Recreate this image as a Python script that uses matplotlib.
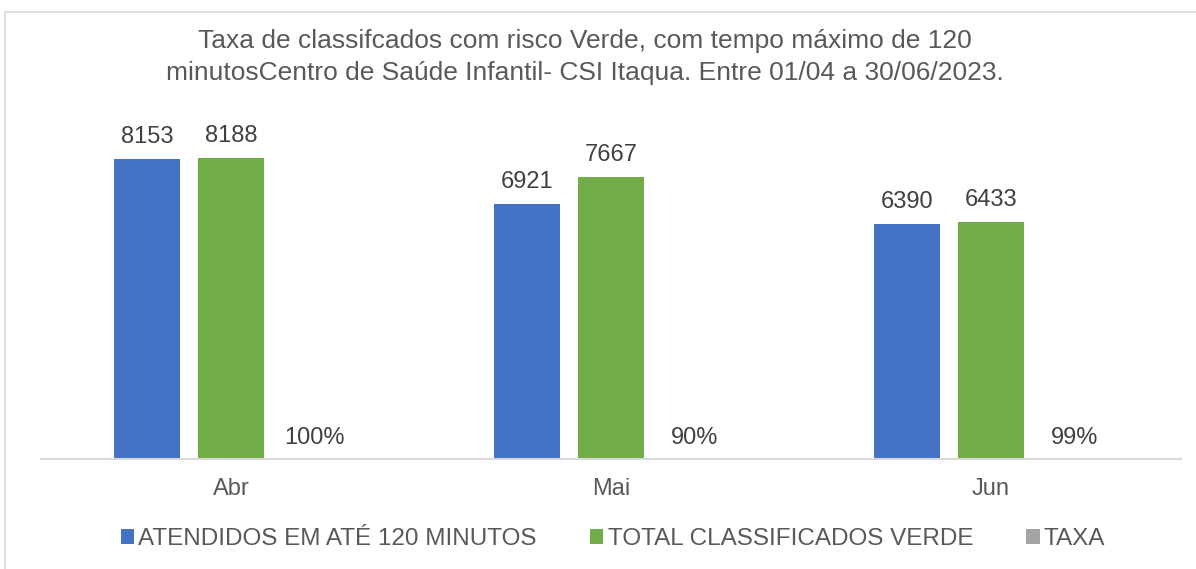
import matplotlib
matplotlib.use("Agg")
import matplotlib.pyplot as plt
import numpy as np
from matplotlib.patches import Rectangle

plt.rcParams["font.family"] = ["Liberation Sans", "DejaVu Sans"]

# Dados
meses = ["Abr", "Mai", "Jun"]
atendidos = [8153, 6921, 6390]
total_verde = [8188, 7667, 6433]
taxa = [1.00, 0.90, 0.99]
taxa_labels = ["100%", "90%", "99%"]

series_nomes = ["ATENDIDOS EM ATÉ 120 MINUTOS", "TOTAL CLASSIFICADOS VERDE", "TAXA"]
cores = ["#4472C4", "#70AD47", "#A5A5A5"]

fig = plt.figure(figsize=(11.96, 5.69), dpi=100)
ax = fig.add_axes([41 / 1196, 1 - 459 / 569, 1140 / 1196, 331 / 569])

# borda do gráfico
fig.patches.append(Rectangle((5 / 1196, -0.05), 1.1, 1 - 12 / 569 + 0.05,
                             transform=fig.transFigure, fill=False,
                             edgecolor="#D9D9D9", linewidth=1.2))

x = np.arange(len(meses))
w = 0.174
off = 0.221

b1 = ax.bar(x - off, atendidos, w, color=cores[0], label=series_nomes[0])
b2 = ax.bar(x, total_verde, w, color=cores[1], label=series_nomes[1])
b3 = ax.bar(x + off, taxa, w, color=cores[2], label=series_nomes[2])

lab_kw = dict(textcoords="offset points", ha="center", va="center",
              fontsize=17, color="#404040")
for bars, vals in [(b1, atendidos), (b2, total_verde)]:
    for r, v in zip(bars, vals):
        ax.annotate(f"{v}", (r.get_x() + r.get_width() / 2, r.get_height()),
                    xytext=(0, 16), **lab_kw)
for r, t in zip(b3, taxa_labels):
    ax.annotate(t, (r.get_x() + r.get_width() / 2, r.get_height()),
                xytext=(0, 15), **lab_kw)

ax.set_xlim(-0.5, 2.5)
ax.set_ylim(0, 9000)
ax.set_xticks(x)
ax.set_xticklabels(meses, fontsize=17, color="#595959")
ax.tick_params(axis="x", length=0, pad=14)
ax.set_yticks([])
for s in ["top", "right", "left"]:
    ax.spines[s].set_visible(False)
ax.spines["bottom"].set_color("#D9D9D9")
ax.spines["bottom"].set_linewidth(1.5)

fig.text(585 / 1196, 1 - 57 / 569,
         "Taxa de classifcados com risco Verde, com tempo máximo de 120\n"
         "minutosCentro de Saúde Infantil- CSI Itaqua. Entre 01/04 a 30/06/2023.",
         ha="center", va="center", fontsize=19, color="#595959",
         linespacing=1.42)

leg = fig.legend(handles=[b1, b2, b3], labels=series_nomes, loc="center",
                 bbox_to_anchor=(0.5125, 1 - 539 / 569), ncol=3, frameon=False,
                 fontsize=17.5, handlelength=0.55, handleheight=0.55,
                 handletextpad=0.17, columnspacing=2.2)
for t in leg.get_texts():
    t.set_color("#595959")

fig.savefig("out.png", dpi=100)
